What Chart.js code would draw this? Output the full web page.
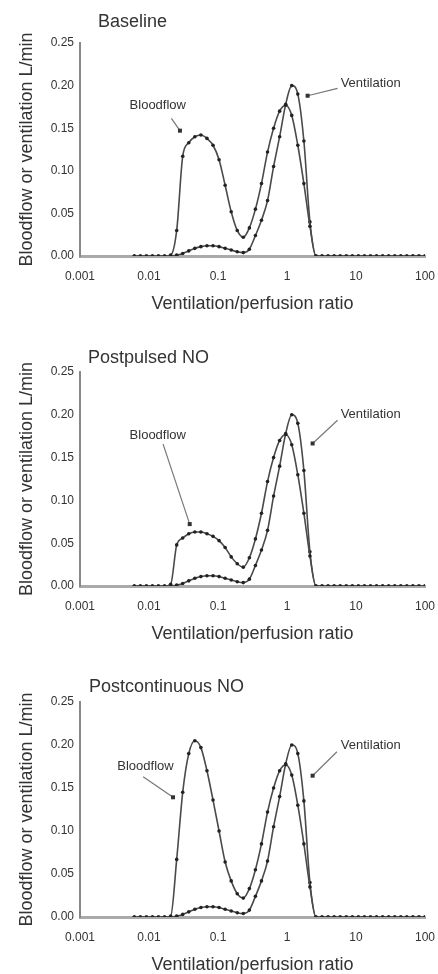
<!DOCTYPE html>
<html>
<head>
<meta charset="utf-8">
<script src="https://cdn.jsdelivr.net/npm/chart.js@4/dist/chart.umd.min.js"></script>
<style>
html, body { margin:0; padding:0; background:#fff; overflow:hidden; }
.panel { position:absolute; left:0; width:438px; height:320px; }
</style>
</head>
<body>
<div class="panel" style="top:0px"><canvas id="c1" width="438" height="320"></canvas></div>
<div class="panel" style="top:330px"><canvas id="c2" width="438" height="320"></canvas></div>
<div class="panel" style="top:661px"><canvas id="c3" width="438" height="320"></canvas></div>
<script>
// V/Q compartments (log spaced)
var ratios = [0.00612, 0.00749, 0.00917, 0.0112, 0.0137, 0.0168, 0.0206, 0.0252, 0.0308, 0.0377,
  0.0462, 0.0565, 0.0692, 0.0847, 0.1036, 0.1269, 0.1553, 0.1901, 0.2326, 0.2848,
  0.3486, 0.4266, 0.5222, 0.6392, 0.7822, 0.9575, 1.172, 1.434, 1.756, 2.149,
  2.630, 3.219, 3.940, 4.824, 5.904, 7.226, 8.845, 10.83, 13.25, 16.22,
  19.85, 24.30, 29.74, 36.40, 44.56, 54.54, 66.75, 81.70, 100];

var xTicks = [0.001, 0.01, 0.1, 1, 10, 100];
var yTicks = [0, 0.05, 0.10, 0.15, 0.20, 0.25];

var titles = ["Baseline", "Postpulsed NO", "Postcontinuous NO"];

var baselineBlood = [0,0,0,0,0,0,
  0.001,0.03,0.117,0.133,0.14,0.142,0.138,0.13,0.113,0.083,0.052,0.03,0.022,0.033,
  0.055,0.085,0.122,0.15,0.17,0.177,0.165,0.13,0.085,0.035,
  0,0,0,0,0,0,0,0,0,0,0,0,0,0,0,0,0,0,0];
var baselineVent = [0,0,0,0,0,0,0,
  0.001,0.003,0.006,0.009,0.011,0.012,0.012,0.011,0.009,0.007,0.005,0.004,0.008,
  0.024,0.042,0.065,0.105,0.14,0.178,0.2,0.19,0.135,0.04,
  0,0,0,0,0,0,0,0,0,0,0,0,0,0,0,0,0,0,0];

var pulsedBlood = [0,0,0,0,0,0,
  0.002,0.048,0.056,0.061,0.063,0.063,0.061,0.058,0.053,0.045,0.034,0.026,0.022,0.033,
  0.055,0.085,0.122,0.15,0.17,0.177,0.165,0.13,0.085,0.035,
  0,0,0,0,0,0,0,0,0,0,0,0,0,0,0,0,0,0,0];
var pulsedVent = [0,0,0,0,0,0,0,
  0.001,0.003,0.006,0.009,0.011,0.012,0.012,0.011,0.009,0.007,0.005,0.004,0.008,
  0.024,0.042,0.065,0.105,0.14,0.178,0.2,0.19,0.135,0.04,
  0,0,0,0,0,0,0,0,0,0,0,0,0,0,0,0,0,0,0];

var contBlood = [0,0,0,0,0,0,
  0.001,0.067,0.145,0.19,0.205,0.197,0.17,0.136,0.1,0.064,0.042,0.027,0.022,0.033,
  0.055,0.085,0.122,0.15,0.17,0.177,0.165,0.13,0.085,0.035,
  0,0,0,0,0,0,0,0,0,0,0,0,0,0,0,0,0,0,0];
var contVent = [0,0,0,0,0,0,0,
  0.001,0.003,0.006,0.009,0.011,0.012,0.012,0.011,0.009,0.007,0.005,0.004,0.008,
  0.024,0.042,0.065,0.105,0.14,0.178,0.2,0.19,0.135,0.04,
  0,0,0,0,0,0,0,0,0,0,0,0,0,0,0,0,0,0,0];

var FONT = '"Liberation Sans", Arial, sans-serif';

// label + arrow placement, in data units (ratio, L/min)
var panels = [
  { id: "c1", title: titles[0], blood: baselineBlood, vent: baselineVent, padTop: 43, titleDx: 18, titleDy: 21,
    notes: [
      { text: "Bloodflow", x: 0.0134, y: 0.177, ax: 0.0211, ay: 0.1616, bx: 0.0281, by: 0.1471 },
      { text: "Ventilation", x: 16.3, y: 0.2027, ax: 5.40, ay: 0.1968, bx: 1.99, by: 0.1881 }
    ] },
  { id: "c2", title: titles[1], blood: pulsedBlood, vent: pulsedVent, padTop: 42, titleDx: 8, titleDy: 14,
    notes: [
      { text: "Bloodflow", x: 0.0134, y: 0.176, ax: 0.0160, ay: 0.1657, bx: 0.0389, by: 0.0723 },
      { text: "Ventilation", x: 16.3, y: 0.2003, ax: 5.40, ay: 0.1937, bx: 2.35, by: 0.1665 }
    ] },
  { id: "c3", title: titles[2], blood: contBlood, vent: contVent, padTop: 41, titleDx: 9, titleDy: 15,
    notes: [
      { text: "Bloodflow", x: 0.00889, y: 0.1756, ax: 0.00823, ay: 0.1631, bx: 0.0223, by: 0.1392 },
      { text: "Ventilation", x: 16.4, y: 0.2, ax: 5.29, ay: 0.1922, bx: 2.35, by: 0.1643 }
    ] }
];

var notesPlugin = {
  id: 'notes',
  afterDatasetsDraw: function(chart, args, opts) {
    var ctx = chart.ctx, area = chart.chartArea;
    var x = chart.scales.x, y = chart.scales.y;
    ctx.save();
    ctx.fillStyle = '#333';
    ctx.textBaseline = 'middle';
    ctx.font = '18px ' + FONT;
    ctx.textAlign = 'left';
    ctx.fillText(opts.title, area.left + opts.titleDx, area.top - opts.titleDy);
    ctx.font = '13px ' + FONT;
    ctx.textAlign = 'center';
    opts.notes.forEach(function(n) {
      ctx.fillStyle = '#333';
      ctx.fillText(n.text, x.getPixelForValue(n.x), y.getPixelForValue(n.y));
      var x0 = x.getPixelForValue(n.ax), y0 = y.getPixelForValue(n.ay);
      var x1 = x.getPixelForValue(n.bx), y1 = y.getPixelForValue(n.by);
      ctx.strokeStyle = '#777';
      ctx.lineWidth = 1.2;
      ctx.beginPath();
      ctx.moveTo(x0, y0);
      ctx.lineTo(x1, y1);
      ctx.stroke();
      ctx.fillStyle = '#333';
      ctx.fillRect(x1 - 2, y1 - 2, 4, 4);
    });
    ctx.restore();
  }
};

function lineSet(values) {
  return {
    data: values,
    borderColor: '#4a4a4a',
    borderWidth: 1.6,
    pointRadius: 1.8,
    pointBorderWidth: 0,
    pointBackgroundColor: '#222',
    cubicInterpolationMode: 'monotone',
    fill: false
  };
}

panels.forEach(function(p) {
  new Chart(document.getElementById(p.id), {
    type: 'line',
    data: {
      labels: ratios,
      datasets: [lineSet(p.blood), lineSet(p.vent)]
    },
    options: {
      responsive: false,
      animation: false,
      layout: { padding: { top: p.padTop, right: 13, left: 0, bottom: 0 } },
      plugins: {
        legend: { display: false },
        tooltip: { enabled: false },
        notes: { title: p.title, titleDx: p.titleDx, titleDy: p.titleDy, notes: p.notes }
      },
      scales: {
        x: {
          type: 'logarithmic',
          min: 0.001,
          max: 100,
          afterBuildTicks: function(scale) {
            scale.ticks = xTicks.map(function(v) { return { value: v }; });
          },
          afterFit: function(scale) {
            scale.height = 64;
            scale.paddingLeft = 0;
            scale.paddingRight = 0;
          },
          grid: { display: false, drawTicks: false },
          border: { color: '#aaa', width: 3 },
          ticks: {
            padding: 13,
            color: '#333',
            font: { family: FONT, size: 12 },
            maxRotation: 0,
            autoSkip: false,
            callback: function(v) { return String(v); }
          },
          title: {
            display: true,
            text: 'Ventilation/perfusion ratio',
            color: '#333',
            font: { family: FONT, size: 18 },
            padding: { top: 0, bottom: 5 }
          }
        },
        y: {
          min: 0,
          max: 0.25,
          afterBuildTicks: function(scale) {
            scale.ticks = yTicks.map(function(v) { return { value: v }; });
          },
          afterFit: function(scale) { scale.width = 80; },
          grid: { display: false, drawTicks: false },
          border: { color: '#888', width: 2 },
          ticks: {
            padding: 6,
            color: '#333',
            font: { family: FONT, size: 12 },
            callback: function(v) { return v.toFixed(2); }
          },
          title: {
            display: true,
            text: 'Bloodflow or ventilation L/min',
            color: '#333',
            font: { family: FONT, size: 18 },
            padding: { top: 16, bottom: 0 }
          }
        }
      }
    },
    plugins: [notesPlugin]
  });
});
</script>
</body>
</html>
